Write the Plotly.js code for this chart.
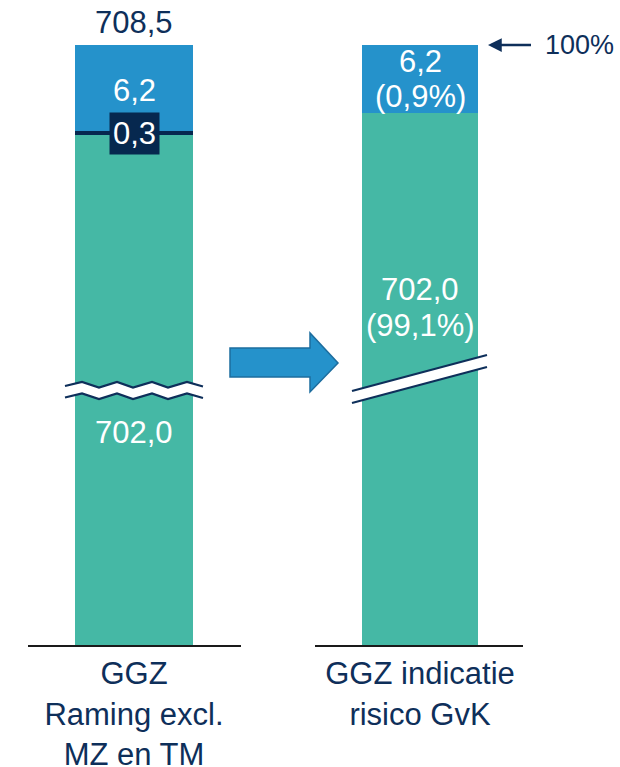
<!DOCTYPE html>
<html>
<head>
<meta charset="utf-8">
<script src="https://cdn.plot.ly/plotly-3.0.1.min.js"></script>
<style>html,body{margin:0;padding:0;background:#fff;}#chart{width:620px;height:767px;}</style>
</head>
<body>
<div id="chart"></div>
<script>
// ---- data ----
const categories = ['GGZ<br>Raming excl.<br>MZ en TM', 'GGZ indicatie<br>risico GvK'];
const leftSeries = ['Basis', 'Extra', 'Risico'];
const leftValues = [702.0, 0.3, 6.2];
const rightSeries = ['Basis', 'Risico'];
const rightValues = [702.0, 6.2];
const rightShares = ['99,1%', '0,9%'];
const topMarker = '100%';

// ---- helpers ----
const W = 620, H = 767;
const px = x => x / W;
const py = y => (H - y) / H;
const fmt = v => v.toFixed(1).replace('.', ',');
const sum = a => a.reduce((s, v) => s + v, 0);

const GREEN = '#45b8a5', BLUE = '#2592cb', DARK = '#06284f', NAVY = '#0e2f5a';
const FONT = 'Liberation Sans, Arial, sans-serif';

const leftColors = [GREEN, DARK, BLUE];
const rightColors = [GREEN, BLUE];

const leftTop = sum(leftValues);
const rightTop = sum(rightValues);
const leftScale = 13.85;   // px per unit in upper part
const rightScale = 10.97;
const breakL = 390, breakR = 379, topY = 45, baseY = 645;

const traces = [];
function addBars(vals, colors, names, xa, yaLow, yaHigh, cat, width) {
  [yaLow, yaHigh].forEach(ya => {
    vals.forEach((v, i) => {
      traces.push({
        type: 'bar', x: [cat], y: [v], name: names[i], xaxis: xa, yaxis: ya,
        width: width, marker: {color: colors[i], line: {width: 0}},
        hoverinfo: 'skip', showlegend: false
      });
    });
  });
}
addBars(leftValues, leftColors, leftSeries, 'x', 'y', 'y2', categories[0], 0.554);
addBars(rightValues, rightColors, rightSeries, 'x2', 'y3', 'y4', categories[1], 0.5577);

const white = {family: FONT, size: 31, color: '#ffffff'};
const navyF = {family: FONT, size: 31, color: NAVY};

const annotations = [
  {xref: 'x', yref: 'paper', x: 0, y: py(23), text: fmt(leftTop), showarrow: false, font: navyF, yanchor: 'middle'},
  {xref: 'x', yref: 'paper', x: 0, y: py(90), text: fmt(leftValues[2]), showarrow: false, font: white, yanchor: 'middle'},
  {xref: 'x', yref: 'paper', x: 0, y: py(133), text: fmt(leftValues[1]), showarrow: false, font: white, yanchor: 'middle', bgcolor: DARK, borderpad: 3},
  {xref: 'x', yref: 'paper', x: 0, y: py(432), text: fmt(leftValues[0]), showarrow: false, font: white, yanchor: 'middle'},
  {xref: 'x2', yref: 'paper', x: 0, y: py(62), text: fmt(rightValues[1]), showarrow: false, font: white, yanchor: 'middle'},
  {xref: 'x2', yref: 'paper', x: 0, y: py(97), text: '(' + rightShares[1] + ')', showarrow: false, font: white, yanchor: 'middle'},
  {xref: 'x2', yref: 'paper', x: 0, y: py(289), text: fmt(rightValues[0]), showarrow: false, font: white, yanchor: 'middle'},
  {xref: 'x2', yref: 'paper', x: 0, y: py(325), text: '(' + rightShares[0] + ')', showarrow: false, font: white, yanchor: 'middle'},
  {xref: 'paper', yref: 'paper', x: px(488), y: py(45), text: topMarker, showarrow: true,
   ax: 91, ay: 0, arrowhead: 2, arrowsize: 1.1, arrowwidth: 2.5, arrowcolor: NAVY, startstandoff: 12,
   font: {family: FONT, size: 27, color: NAVY}}
];

// decorative shapes: break marks and transition arrow
function pathFrom(pts, close) {
  return pts.map((p, i) => (i ? 'L' : 'M') + px(p[0]).toFixed(5) + ',' + py(p[1]).toFixed(5)).join(' ') + (close ? ' Z' : '');
}
const waveX = [65, 82, 99, 117, 133, 152, 168, 187, 203];
const waveDY = [4, 0, 5.5, 0, 5.5, 0, 5.5, 0, 4.5];
const upper = waveX.map((x, i) => [x, 382 + waveDY[i]]);
const lower = waveX.map((x, i) => [x, 393.5 + waveDY[i]]);
const shapes = [
  {type: 'path', xref: 'paper', yref: 'paper', path: pathFrom(upper.concat(lower.slice().reverse()), true), fillcolor: '#ffffff', line: {width: 0}},
  {type: 'path', xref: 'paper', yref: 'paper', path: pathFrom(upper, false), line: {color: NAVY, width: 2.2}},
  {type: 'path', xref: 'paper', yref: 'paper', path: pathFrom(lower, false), line: {color: NAVY, width: 2.2}},
  {type: 'path', xref: 'paper', yref: 'paper', path: pathFrom([[352, 391], [487, 355], [487, 367], [352, 403]], true), fillcolor: '#ffffff', line: {width: 0}},
  {type: 'path', xref: 'paper', yref: 'paper', path: pathFrom([[352, 391], [487, 355]], false), line: {color: NAVY, width: 2.2}},
  {type: 'path', xref: 'paper', yref: 'paper', path: pathFrom([[352, 403], [487, 367]], false), line: {color: NAVY, width: 2.2}},
  {type: 'path', xref: 'paper', yref: 'paper',
   path: pathFrom([[230, 348], [310, 348], [310, 333], [338, 363], [310, 392], [310, 377], [230, 377]], true),
   fillcolor: BLUE, line: {color: '#1d6d9e', width: 1.5}}
];

const axisX = {
  type: 'category', showline: true, linecolor: '#1a1a1a', linewidth: 2, ticks: '',
  showgrid: false, zeroline: false, fixedrange: true, automargin: false,
  tickfont: {family: FONT, size: 31, color: NAVY}
};
const hidY = {visible: false, showgrid: false, zeroline: false, fixedrange: true};

const layout = {
  width: W, height: H, margin: {l: 0, r: 0, t: 0, b: 0},
  paper_bgcolor: '#ffffff', plot_bgcolor: 'rgba(0,0,0,0)',
  barmode: 'stack', showlegend: false, font: {family: FONT},
  xaxis: Object.assign({}, axisX, {domain: [px(28), px(241)], range: [-0.4977, 0.5023], anchor: 'y'}),
  xaxis2: Object.assign({}, axisX, {domain: [px(315), px(523)], range: [-0.5048, 0.4952], anchor: 'y3'}),
  yaxis: Object.assign({}, hidY, {domain: [py(baseY), py(breakL)], range: [0, 250], anchor: 'x'}),
  yaxis2: Object.assign({}, hidY, {domain: [py(breakL), py(topY)], range: [leftTop - (breakL - topY) / leftScale, leftTop], anchor: 'x'}),
  yaxis3: Object.assign({}, hidY, {domain: [py(baseY), py(breakR)], range: [0, 250], anchor: 'x2'}),
  yaxis4: Object.assign({}, hidY, {domain: [py(breakR), py(topY)], range: [rightTop - (breakR - topY) / rightScale, rightTop], anchor: 'x2'}),
  annotations: annotations,
  shapes: shapes
};

Plotly.newPlot('chart', traces, layout, {staticPlot: true, displayModeBar: false});
</script>
</body>
</html>
